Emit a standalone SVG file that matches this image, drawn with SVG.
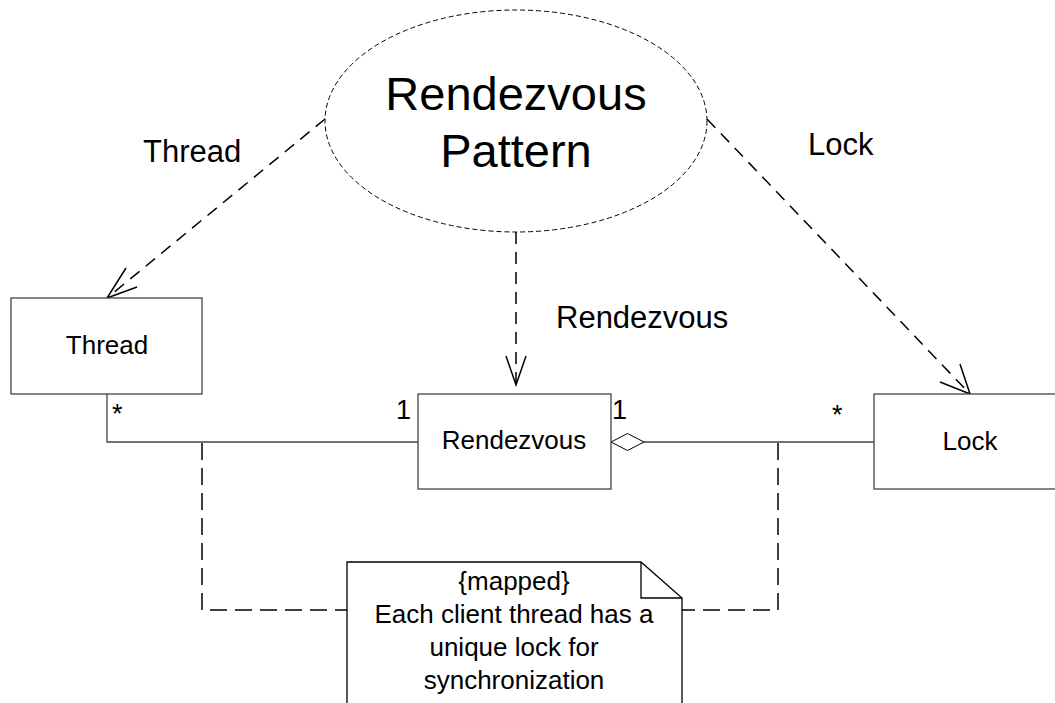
<svg xmlns="http://www.w3.org/2000/svg" width="1055" height="703" viewBox="0 0 1055 703">
<style>
text{font-family:"Liberation Sans",Arial,sans-serif;fill:#000}
.box{fill:#fff;stroke:#444;stroke-width:1.3}
.assoc{fill:none;stroke:#444;stroke-width:1.3}
.dep{fill:none;stroke:#000;stroke-width:1.5;stroke-dasharray:12 8}
.head{fill:none;stroke:#000;stroke-width:1.5}
.anchor{fill:none;stroke:#000;stroke-width:1.5;stroke-dasharray:17 8}
.lbl{font-size:31px}
.name{font-size:26px;text-anchor:middle}
.mult{font-size:27px}
.note{font-size:26px;text-anchor:middle}
</style>
<rect width="1055" height="703" fill="#fff"/>
<g id="collaboration">
<ellipse cx="516" cy="121" rx="191" ry="111" fill="#fff" stroke="#000" stroke-width="1" stroke-dasharray="5 3"/>
<text x="516" y="110" font-size="47" text-anchor="middle">Rendezvous</text>
<text x="516" y="167" font-size="47" text-anchor="middle">Pattern</text>
</g>
<g id="connectors">
<path class="dep" d="M325,119 L107,298"/>
<path class="head" d="M126,268 L107,298 L137,287"/>
<path class="dep" d="M516,232 L516,385"/>
<path class="head" d="M506,356 L516,385 L526,356"/>
<path class="dep" d="M707,119 L970,394"/>
<path class="head" d="M940,382 L970,394 L960,364"/>
<path class="assoc" d="M107,394 L107,442 L418,442"/>
<path class="assoc" d="M644,442 L874,442"/>
<path d="M611,442 L627.5,433.5 L644,442 L627.5,450.5 Z" fill="#fff" stroke="#000" stroke-width="1"/>
<path class="anchor" d="M202,443 L202,610 L347,610"/>
<path class="anchor" d="M778,443 L778,610 L682,610"/>
</g>
<g id="labels">
<text class="lbl" x="143" y="162">Thread</text>
<text class="lbl" x="808" y="155">Lock</text>
<text class="lbl" x="556" y="328">Rendezvous</text>
<text class="mult" x="112" y="423">*</text>
<text class="mult" x="396" y="419">1</text>
<text class="mult" x="612" y="419">1</text>
<text class="mult" x="832" y="424">*</text>
</g>
<g id="thread">
<rect class="box" x="11" y="298" width="191" height="96"/>
<text class="name" x="107" y="354">Thread</text>
</g>
<g id="rendezvous">
<rect class="box" x="418" y="394" width="193" height="95"/>
<text class="name" x="514" y="449">Rendezvous</text>
</g>
<g id="lock">
<rect class="box" x="874" y="394" width="192" height="95"/>
<text class="name" x="970" y="450">Lock</text>
</g>
<g id="note">
<path d="M347,710 L347,562 L641,562 L682,598 L682,710" fill="#fff" stroke="#000" stroke-width="1.3"/>
<path d="M641,562 L641,598 L682,598" fill="none" stroke="#000" stroke-width="1.3"/>
<text class="note" x="514" y="590">{mapped}</text>
<text class="note" x="514" y="623">Each client thread has a</text>
<text class="note" x="514" y="656">unique lock for</text>
<text class="note" x="514" y="689">synchronization</text>
</g>
</svg>
